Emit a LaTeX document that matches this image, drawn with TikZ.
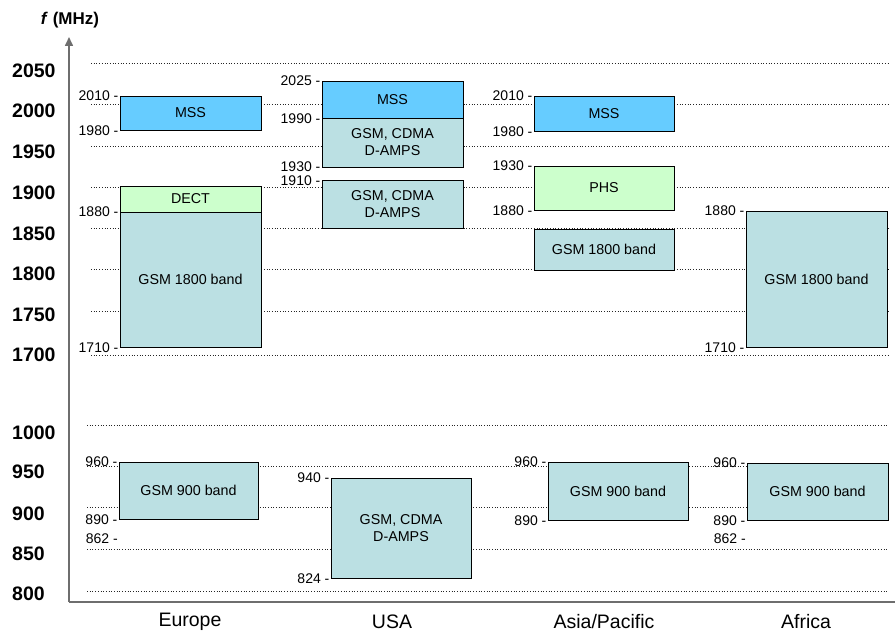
\documentclass[tikz,border=0pt]{standalone}
\usepackage{fontspec}
\setmainfont{Liberation Sans}
\usetikzlibrary{arrows.meta}

\definecolor{mssblue}{HTML}{66CCFF}
\definecolor{gsmteal}{HTML}{BBE0E3}
\definecolor{dectgreen}{HTML}{CCFFCC}
\definecolor{axisgray}{HTML}{6E6E6E}

\tikzset{
  band/.style={draw=black, line width=0.8pt, inner sep=0pt, align=center,
               font=\fontsize{14.3}{17}\selectfont},
  mss/.style={band, fill=mssblue},
  gsm/.style={band, fill=gsmteal},
  dectband/.style={band, fill=dectgreen},
  ticklbl/.style={anchor=east, inner sep=0pt, xshift=-1pt,
                  font=\fontsize{14}{14}\selectfont},
  freqlbl/.style={anchor=west, inner sep=0pt,
                  font=\fontsize{19.5}{19.5}\selectfont\bfseries},
  region/.style={inner sep=0pt, font=\fontsize{19.5}{19.5}\selectfont},
  grid line/.style={dotted, line width=0.7pt, black!85},
  axis line/.style={draw=axisgray, line width=1.6pt}
}

\begin{document}
\begin{tikzpicture}[x=1pt, y=-1pt]
\useasboundingbox (0,0) rectangle (895,634);

% dotted frequency grid
\foreach \yy in {63,104,146,187,228,269,311,355}
  \draw[grid line] (91,\yy) -- (888,\yy);
\foreach \yy in {425,466,507,549,591}
  \draw[grid line] (87,\yy) -- (888,\yy);

% axes
\coordinate (origin) at (69,602);
\coordinate (ytip) at (69,37);
\coordinate (xend) at (895,602);
\draw[axis line, -{Triangle[length=9pt,width=8pt]}] (origin) -- (ytip);
\draw[axis line] (origin) -- (xend);
\node[inner sep=0pt, font=\fontsize{17}{17}\selectfont\bfseries] (unit) at (70,20) {\textit{f} (MHz)};

% frequency scale
\foreach \val/\yy in {2050/71,2000/111,1950/152,1900/193,1850/234,1800/274,
                      1750/315,1700/355,1000/433,950/472,900/514,850/554,800/594}
  \node[freqlbl] (f\val) at (12,\yy) {\val};

% Europe
\node[mss, minimum width=141pt, minimum height=34pt] (eumss) at (190.5,113) {MSS};
\node[dectband, minimum width=141pt, minimum height=26pt] (eudect) at (190.5,199) {DECT};
\node[gsm, minimum width=141pt, minimum height=135pt] (eudcs) at (190.5,279.5) {GSM 1800 band};
\node[gsm, minimum width=139pt, minimum height=57pt] (eugsm) at (188.5,490.5) {GSM 900 band};
\node[ticklbl] (eu2010) at (eumss.north west) {2010 -};
\node[ticklbl] (eu1980) at (eumss.south west) {1980 -};
\node[ticklbl] (eu1880) at (eudcs.north west) {1880 -};
\node[ticklbl] (eu1710) at (eudcs.south west) {1710 -};
\node[ticklbl] (eu960) at (eugsm.north west) {960 -};
\node[ticklbl] (eu890) at (eugsm.south west) {890 -};
\node[ticklbl] (eu862) at (119,539) {862 -};

% USA
\node[mss, minimum width=141pt, minimum height=37pt] (usmss) at (392.5,99.5) {MSS};
\node[gsm, minimum width=141pt, minimum height=49pt] (uspcsa) at (392.5,142.5) {GSM, CDMA\\D-AMPS};
\node[gsm, minimum width=141pt, minimum height=48pt] (uspcsb) at (392.5,204) {GSM, CDMA\\D-AMPS};
\node[gsm, minimum width=140pt, minimum height=100pt] (uscell) at (401,528) {GSM, CDMA\\D-AMPS};
\node[ticklbl] (us2025) at (usmss.north west) {2025 -};
\node[ticklbl] (us1990) at (usmss.south west) {1990 -};
\node[ticklbl, yshift=1.2pt] (us1930) at (uspcsa.south west) {1930 -};
\node[ticklbl, yshift=-1.2pt] (us1910) at (uspcsb.north west) {1910 -};
\node[ticklbl] (us940) at (uscell.north west) {940 -};
\node[ticklbl] (us824) at (uscell.south west) {824 -};

% Asia/Pacific
\node[mss, minimum width=140pt, minimum height=35pt] (apmss) at (604,113.5) {MSS};
\node[dectband, minimum width=140pt, minimum height=44pt] (apphs) at (604,188) {PHS};
\node[gsm, minimum width=140pt, minimum height=41pt] (apdcs) at (604,249.5) {GSM 1800 band};
\node[gsm, minimum width=140pt, minimum height=58pt] (apgsm) at (618,491) {GSM 900 band};
\node[ticklbl] (ap2010) at (apmss.north west) {2010 -};
\node[ticklbl] (ap1980) at (apmss.south west) {1980 -};
\node[ticklbl] (ap1930) at (apphs.north west) {1930 -};
\node[ticklbl] (ap1880) at (apphs.south west) {1880 -};
\node[ticklbl] (ap960) at (apgsm.north west) {960 -};
\node[ticklbl] (ap890) at (apgsm.south west) {890 -};

% Africa
\node[gsm, minimum width=141pt, minimum height=136pt] (afdcs) at (816.5,279) {GSM 1800 band};
\node[gsm, minimum width=141pt, minimum height=57pt] (afgsm) at (817.5,491.5) {GSM 900 band};
\node[ticklbl] (af1880) at (afdcs.north west) {1880 -};
\node[ticklbl] (af1710) at (afdcs.south west) {1710 -};
\node[ticklbl] (af960) at (afgsm.north west) {960 -};
\node[ticklbl] (af890) at (afgsm.south west) {890 -};
\node[ticklbl] (af862) at (747,539) {862 -};

% regions
\node[region] (europe) at (190,622) {Europe};
\node[region] (usa) at (392,622) {USA};
\node[region] (asia) at (604,622) {Asia/Pacific};
\node[region] (africa) at (806,622) {Africa};
\end{tikzpicture}
\end{document}
